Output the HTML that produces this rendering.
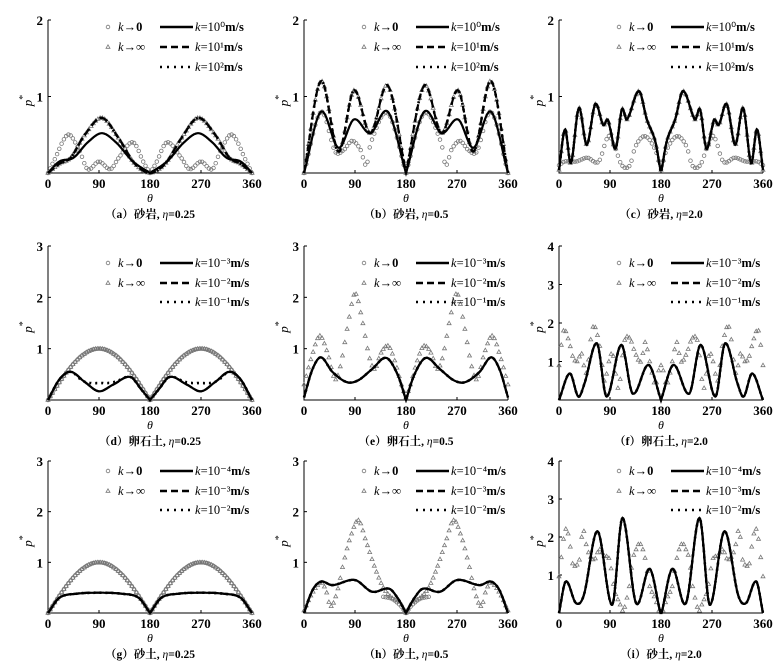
<!DOCTYPE html>
<html><head><meta charset="utf-8"><style>
html,body{margin:0;padding:0;background:#fff;}
svg{display:block;}
text{font-family:"Liberation Serif","Noto Serif CJK SC",serif;fill:#000;}
</style></head><body>
<svg id="s" width="784" height="667" viewBox="0 0 784 667" xmlns="http://www.w3.org/2000/svg"></svg>
<script>
var S=document.getElementById('s');var out='';
function cr(pts,t){
  var n=pts.length;
  if(t<=pts[0][0])return pts[0][1];
  if(t>=pts[n-1][0])return pts[n-1][1];
  var i=0;while(i<n-2&&pts[i+1][0]<t)i++;
  var p0=pts[Math.max(i-1,0)],p1=pts[i],p2=pts[i+1],p3=pts[Math.min(i+2,n-1)];
  var u=(t-p1[0])/(p2[0]-p1[0]);
  var m1=(p2[1]-p0[1])/(p2[0]-p0[0]||1)*(p2[0]-p1[0]);
  var m2=(p3[1]-p1[1])/(p3[0]-p1[0]||1)*(p2[0]-p1[0]);
  var u2=u*u,u3=u2*u;
  var v=(2*u3-3*u2+1)*p1[1]+(u3-2*u2+u)*m1+(-2*u3+3*u2)*p2[1]+(u3-u2)*m2;
  return Math.max(0,v);
}
function f(pts,t){return t<=180?cr(pts,t):cr(pts,360-t);}
var cols=[48,304,559],W=204;
var rows=[[173,20],[400,246],[613,461]];
var aTri=[[0,0],[20,0.12],[40,0.2],[65,0.5],[95,0.72],[125,0.45],[150,0.15],[170,0.02],[180,0]];
var bTri=[[0,0],[30,1.2],[61,0.28],[88,1.08],[117,0.52],[148,1.14],[180,0]];
var P=[
 {r:0,c:0,ymax:2,cap:'（a）砂岩, ',eta:'0.25',ks:['10⁰','10¹','10²'],
  circ:[[0,0],[10,0.15],[35,0.5],[55,0.3],[70,0.05],[90,0.15],[110,0.05],[125,0.2],[150,0.4],[170,0.12],[180,0]],
  tri:aTri,
  sol:[[0,0],[20,0.15],[45,0.2],[70,0.4],[95,0.52],[120,0.4],[150,0.15],[180,0]],
  dash:aTri,dot:aTri},
 {r:0,c:1,ymax:2,cap:'（b）砂岩, ',eta:'0.5',ks:['10⁰','10¹','10²'],
  circ:[[0,0],[30,0.8],[55,0.28],[70,0.3],[85,0.42],[100,0.3],[110,0.1],[118,0.4],[148,0.78],[180,0]],
  tri:bTri,dash:bTri,dot:bTri,
  sol:[[0,0],[30,0.8],[61,0.33],[88,0.7],[117,0.52],[148,0.8],[180,0]]},
 {r:0,c:2,ymax:2,cap:'（c）砂岩, ',eta:'2.0',ks:['10⁰','10¹','10²'],
  circ:[[0,0.1],[10,0.15],[30,0.15],[50,0.2],[70,0.15],[87,0.48],[98,0.35],[111,0.1],[125,0.1],[135,0.35],[152,0.48],[170,0.3],[180,0.05]],
  tri:[[0,0.04],[10.6,0.57],[21,0.13],[35,0.85],[49,0.37],[64,0.9],[78,0.63],[86,0.7],[90,0.59],[100,0.32],[111,0.83],[120,0.7],[141,1.07],[155,0.7],[170,0.41],[179,0.04],[180,0.04]]},
 {r:1,c:0,ymax:3,cap:'（d）卵石土, ',eta:'0.25',ks:['10⁻³','10⁻²','10⁻¹'],
  circ:'hump',tri:'hump',
  sol:[[0,0],[20,0.4],[40,0.55],[65,0.35],[90,0.17],[115,0.3],[145,0.45],[165,0.2],[180,0]],
  dot:[[0,0],[20,0.4],[40,0.55],[60,0.38],[75,0.33],[90,0.33],[105,0.33],[120,0.36],[145,0.45],[165,0.2],[180,0]]},
 {r:1,c:1,ymax:3,cap:'（e）卵石土, ',eta:'0.5',ks:['10⁻³','10⁻²','10⁻¹'],
  circ:null,
  tri:[[0,0.3],[15,0.9],[28,1.25],[42,0.9],[55,0.4],[65,0.7],[78,1.5],[90,2.08],[102,1.6],[115,0.85],[125,0.6],[135,0.9],[149,1.05],[162,0.7],[172,0.3],[180,0.05]],
  sol:[[0,0.05],[15,0.6],[30,0.83],[50,0.55],[75,0.35],[95,0.38],[120,0.6],[145,0.82],[165,0.5],[180,0]]},
 {r:1,c:2,ymax:4,cap:'（f）卵石土, ',eta:'2.0',ks:['10⁻³','10⁻²','10⁻¹'],
  circ:null,
  tri:[[0,0.9],[8,1.8],[18,1.5],[25,1.1],[32,1.0],[40,1.2],[48,0.7],[60,1.9],[72,1.4],[80,0.5],[88,1.0],[95,1.2],[105,0.3],[115,1.5],[125,1.6],[135,1.2],[145,1.0],[152,1.5],[160,1.0],[170,0.4],[178,0.9],[180,0.9]],
  sol:[[0,0],[19,0.69],[34,0.09],[45,0.43],[67,1.47],[84,0.09],[110,1.43],[130,0.17],[158,0.91],[180,0]]},
 {r:2,c:0,ymax:3,cap:'（g）砂土, ',eta:'0.25',ks:['10⁻⁴','10⁻³','10⁻²'],
  circ:'hump',tri:'hump',
  sol:[[0,0],[20,0.3],[50,0.38],[90,0.4],[130,0.38],[160,0.3],[180,0]]},
 {r:2,c:1,ymax:3,cap:'（h）砂土, ',eta:'0.5',ks:['10⁻⁴','10⁻³','10⁻²'],
  circ:[[140,0.32],[155,0.28],[170,0.15],[180,0]],
  tri:[[0,0.05],[15,0.4],[31,0.6],[40,0.4],[47,0.13],[58,0.4],[70,1.0],[82,1.5],[96,1.83],[110,1.4],[125,0.9],[140,0.5],[155,0.3],[170,0.2],[180,0]],
  sol:[[0,0],[15,0.45],[30,0.62],[50,0.55],[90,0.65],[120,0.42],[150,0.48],[165,0.3],[180,0]]},
 {r:2,c:2,ymax:4,cap:'（i）砂土, ',eta:'2.0',ks:['10⁻⁴','10⁻³','10⁻²'],
  circ:null,
  tri:[[0,0.96],[6,1.7],[11,2.2],[18,1.96],[24,1.3],[36,1.4],[40,2.0],[43,2.2],[50,1.67],[62,1.4],[71,1.67],[80,1.5],[89,1.4],[98,0.6],[107,0.26],[113,0.05],[118,0.28],[124,0.7],[130,1.4],[136,1.67],[142,1.83],[148,1.67],[154,1.3],[160,0.7],[166,0.5],[172,0.28],[176,0.05],[180,0.05]],
  sol:[[0,0],[12,0.83],[30,0.26],[44,0.48],[68,2.15],[94,0.22],[112,2.5],[136,0.26],[160,1.16],[179,0],[180,0]]}
];
var hump=function(t){return Math.abs(Math.sin(t*Math.PI/180));};
var legOff=[[7,27,47],[17,37,56],[10,30,49]];
P.forEach(function(p){
  var x0=cols[p.c],y0=rows[p.r][0],yt=rows[p.r][1],H=y0-yt,u=H/p.ymax;
  function X(t){return x0+t/360*W;} function Y(v){return y0-Math.min(v,p.ymax)*u;}
  out+='<path d="M'+x0+' '+yt+'V'+y0+'H'+(x0+W)+'" fill="none" stroke="#000" stroke-width="1"/>';
  for(var k=1;k<=p.ymax;k++){var yy=Y(k);out+='<line x1="'+x0+'" y1="'+yy+'" x2="'+(x0+3)+'" y2="'+yy+'" stroke="#000"/>';
    out+='<text x="'+(x0-5)+'" y="'+(yy+5)+'" font-size="13" font-weight="bold" text-anchor="end">'+k+'</text>';}
  [0,90,180,270,360].forEach(function(t){var xx=X(t);
    if(t>0)out+='<line x1="'+xx+'" y1="'+y0+'" x2="'+xx+'" y2="'+(y0-3)+'" stroke="#000"/>';
    out+='<text x="'+xx+'" y="'+(y0+15)+'" font-size="13" font-weight="bold" text-anchor="middle">'+t+'</text>';});
  out+='<text x="'+(x0+102)+'" y="'+(y0+29)+'" font-size="12" font-style="italic" text-anchor="middle">θ</text>';
  out+='<text x="'+(x0+102)+'" y="'+(y0+45)+'" font-size="11.5" font-weight="bold" text-anchor="middle">'+p.cap+'<tspan font-style="italic" font-weight="normal">η</tspan>='+p.eta+'</text>';
  var ly=(yt+y0)/2;
  out+='<text transform="translate('+(x0-16)+','+(ly+4)+') rotate(-90)" font-size="13" font-style="italic" text-anchor="middle">p<tspan dy="-6" font-size="10" font-style="normal">*</tspan></text>';
  function markers(def,type){
    if(!def)return;
    var lo=0;
    if(def!=='hump'&&def[0][0]>0){lo=def[0][0];}
    for(var t=0;t<=360;t+=4){
      var tt=t<=180?t:360-t; if(tt<lo)continue;
      var v=def==='hump'?hump(t):f(def,t);
      var xx=X(t),yy=Y(v);
      if(type==='c')out+='<circle cx="'+xx.toFixed(1)+'" cy="'+yy.toFixed(1)+'" r="1.8" fill="none" stroke="#777" stroke-width="0.8"/>';
      else out+='<path d="M'+xx.toFixed(1)+' '+(yy-2.2).toFixed(1)+'l2 3.5h-4z" fill="none" stroke="#777" stroke-width="0.8"/>';
    }
  }
  markers(p.circ,'c');markers(p.tri,'t');
  function line(def,dash,w){
    var d='';for(var t=0;t<=360;t+=1){d+=(t?'L':'M')+X(t).toFixed(1)+' '+Y(f(def,t)).toFixed(1);}
    out+='<path d="'+d+'" fill="none" stroke="#000" stroke-width="'+w+'"'+(dash?' stroke-dasharray="'+dash+'"':'')+'/>';
  }
  var sol=p.sol||p.tri;
  line(sol,null,2.2);
  line(p.dash||sol,'7 4',2.2);
  line(p.dot||sol,'2 4',2.6);
  var lo=legOff[p.r];
  var L=[yt+lo[0],yt+lo[1],yt+lo[2]];
  out+='<circle cx="'+(x0+60)+'" cy="'+L[0]+'" r="1.8" fill="none" stroke="#777" stroke-width="0.8"/>';
  out+='<path d="M'+(x0+60)+' '+(L[1]-2.2)+'l2 3.5h-4z" fill="none" stroke="#777" stroke-width="0.8"/>';
  out+='<text x="'+(x0+70)+'" y="'+(L[0]+4)+'" font-size="12.5"><tspan font-style="italic">k</tspan>→<tspan font-weight="bold">0</tspan></text>';
  out+='<text x="'+(x0+70)+'" y="'+(L[1]+4)+'" font-size="12.5"><tspan font-style="italic">k</tspan>→<tspan font-weight="bold">∞</tspan></text>';
  var a=x0+112,b=x0+145;
  out+='<line x1="'+a+'" y1="'+L[0]+'" x2="'+b+'" y2="'+L[0]+'" stroke="#000" stroke-width="2.4"/>';
  out+='<line x1="'+a+'" y1="'+L[1]+'" x2="'+b+'" y2="'+L[1]+'" stroke="#000" stroke-width="2.4" stroke-dasharray="7 4"/>';
  out+='<line x1="'+a+'" y1="'+L[2]+'" x2="'+b+'" y2="'+L[2]+'" stroke="#000" stroke-width="2.6" stroke-dasharray="2 5"/>';
  for(var i=0;i<3;i++)out+='<text x="'+(b+2)+'" y="'+(L[i]+4)+'" font-size="12.5"><tspan font-style="italic">k</tspan>='+p.ks[i]+'<tspan font-weight="bold">m/s</tspan></text>';
});
S.innerHTML=out;
</script>
</body></html>
